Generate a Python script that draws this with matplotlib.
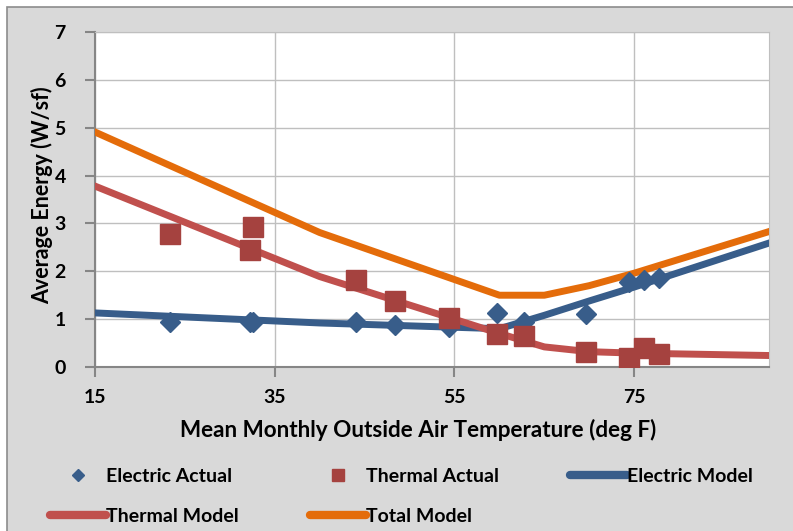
import matplotlib.pyplot as plt
from matplotlib.lines import Line2D
from matplotlib.patches import Rectangle

plt.rcParams['font.family'] = ['Lato', 'DejaVu Sans']
plt.rcParams['font.weight'] = 'bold'

# model curves (deg F -> W/sf)
model_temp = [15, 40, 60, 65, 70, 75, 90]
electric_model = [1.13, 0.92, 0.80, 1.08, 1.38, 1.67, 2.59]
thermal_model = [3.78, 1.89, 0.70, 0.42, 0.32, 0.29, 0.24]
total_model = [4.91, 2.81, 1.50, 1.50, 1.70, 1.96, 2.83]

# monthly measurements
actual_temp = [23.3, 32.3, 32.6, 44.0, 48.4, 54.4, 59.7, 62.7, 69.6, 74.4, 76.1, 77.8]
electric_actual = [0.93, 0.93, 0.95, 0.93, 0.88, 0.84, 1.13, 0.95, 1.11, 1.78, 1.82, 1.87]
thermal_actual = [2.77, 2.44, 2.92, 1.82, 1.38, 1.02, 0.68, 0.65, 0.32, 0.18, 0.39, 0.28]

blue = '#385d8a'
red = '#c0504d'
sq_red = '#a5423f'
orange = '#e46c0a'

fig = plt.figure(figsize=(7.93, 5.31), dpi=100)
fig.patch.set_facecolor('white')
bg = Rectangle((7 / 793, -0.1), 1.1, 1 - 7 / 531 + 0.1, transform=fig.transFigure,
               facecolor='#d9d9d9', edgecolor='#8c8c8c', lw=1.2, zorder=-10)
fig.patches.append(bg)

ax = fig.add_axes([95 / 793, 1 - 367 / 531, (769 - 95) / 793, (367 - 32) / 531])
ax.set_facecolor('white')

ax.plot(actual_temp, electric_actual, linestyle='none', marker='D', ms=10, color=blue, zorder=4)
ax.plot(actual_temp, thermal_actual, linestyle='none', marker='s', ms=14, color=sq_red, zorder=4)
ax.plot(model_temp, electric_model, color=blue, lw=5, zorder=3)
ax.plot(model_temp, thermal_model, color=red, lw=5, zorder=3)
ax.plot(model_temp, total_model, color=orange, lw=5, zorder=3)

ax.set_xlim(15, 90)
ax.set_ylim(0, 7)
ax.set_xticks([15, 35, 55, 75])
ax.set_yticks(range(8))
ax.grid(True, color='#bfbfbf', lw=1)
ax.set_axisbelow(True)
for s in ['top', 'right']:
    ax.spines[s].set_color('#bfbfbf')
for s in ['left', 'bottom']:
    ax.spines[s].set_color('#868686')
    ax.spines[s].set_linewidth(1.5)
ax.tick_params(axis='both', direction='out', length=7, width=1.5, color='#868686',
               labelsize=14)
ax.tick_params(axis='y', pad=14)
ax.tick_params(axis='x', pad=9)

fig.text(180 / 793, 1 - 430 / 531, 'Mean Monthly Outside Air Temperature (deg F)', fontsize=16.2,
         ha='left', va='center')
fig.text(42 / 793, 1 - 195 / 531, 'Average Energy (W/sf)', fontsize=15.5, rotation=90,
         ha='center', va='center')

handles = [
    Line2D([], [], linestyle='none', marker='D', ms=6, color=blue),
    Line2D([], [], color=red, lw=6, solid_capstyle='round'),
    Line2D([], [], linestyle='none', marker='s', ms=9, color=sq_red),
    Line2D([], [], color=orange, lw=6, solid_capstyle='round'),
    Line2D([], [], color=blue, lw=6, solid_capstyle='round'),
]
labels = ['Electric Actual', 'Thermal Model', 'Thermal Actual', 'Total Model', 'Electric Model']
fig.legend(handles, labels, ncol=3, loc='upper left', bbox_to_anchor=(42 / 793, 1 - 460 / 531),
           frameon=False, fontsize=14, handlelength=2.9, handletextpad=0.0,
           columnspacing=3.65, labelspacing=1.2, borderaxespad=0)

fig.savefig('out.png', dpi=100, facecolor=fig.get_facecolor())
